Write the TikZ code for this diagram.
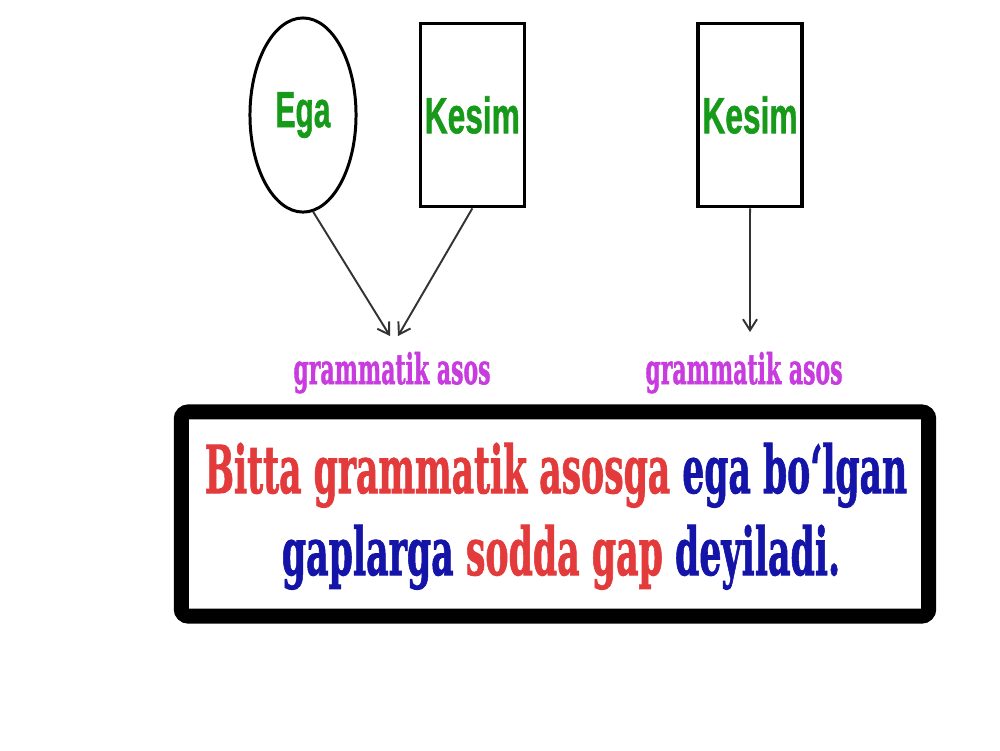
\documentclass[tikz,border=0pt]{standalone}
\usepackage{fontspec}
\usepackage{graphicx}
\setmainfont{DejaVu Serif}
\newfontfamily\partfont[FakeBold=1.2]{Liberation Sans Bold}
\newfontfamily\heavyserif[FakeBold=1.5]{DejaVu Serif Bold}
\usetikzlibrary{shapes.geometric, arrows.meta, positioning}

\definecolor{partgreen}{HTML}{17991A}
\definecolor{asosviolet}{HTML}{C83CDF}
\definecolor{defred}{HTML}{E33B3B}
\definecolor{defblue}{HTML}{1414A8}

% squeeze text to a given width, keep its height
\newcommand{\squeeze}[2]{\resizebox{#1}{\height}{#2}}

\begin{document}
\begin{tikzpicture}[
    x=0.01cm, y=-0.01cm,
    part/.style={draw, inner sep=0pt, text=partgreen, font=\partfont\fontsize{14.5}{14.5}\selectfont},
    oval/.style={part, ellipse, line width=0.85pt, minimum width=1.06cm, minimum height=1.94cm},
    tall/.style={part, rectangle, line width=1pt, minimum width=1.04cm, minimum height=1.83cm},
    asos/.style={text=asosviolet, inner sep=0pt, anchor=base, font=\heavyserif\fontsize{12}{12}\selectfont},
    defline/.style={inner sep=0pt, anchor=base, font=\heavyserif\fontsize{18.8}{18.8}\selectfont},
    arrow/.style={-{Straight Barb[length=1.1mm, width=1.4mm]}, draw=black!80, line width=0.55pt},
    frame/.style={draw, line width=0.15cm, rounded corners=2pt, minimum width=7.47cm, minimum height=2.04cm}
]
\useasboundingbox[fill=white] (0,0) rectangle (1000,750);

% Ega + Kesim
\node[oval] (ega) at (303,115) {\squeeze{0.55cm}{Ega}};
\node[tall, right=0.61cm of ega] (kesimA) {\squeeze{0.95cm}{Kesim}};
\node[asos] (asosA) at (392,384) {\squeeze{1.97cm}{grammatik asos}};
\coordinate (tipA) at (390,336);
\coordinate (tipB) at (398,336);

\draw[arrow] (ega.-84) -- (tipA);
\draw[arrow] (kesimA.south) -- (tipB);

% Kesim only
\node[tall, right=1.70cm of kesimA] (kesimB) {\squeeze{0.95cm}{Kesim}};
\node[asos] (asosB) at (744,384) {\squeeze{1.97cm}{grammatik asos}};
\coordinate (tipC) at (750,332);

\draw[arrow] (kesimB.south) -- (tipC);

% Definition
\node[frame] (defbox) at (555,514) {};
\node[defline] (line1) at (556,493) {\squeeze{7.02cm}{\textcolor{defred}{Bitta grammatik asosga} \textcolor{defblue}{ega bo‘lgan}}};
\node[defline] (line2) at (561,575) {\squeeze{5.58cm}{\textcolor{defblue}{gaplarga} \textcolor{defred}{sodda gap} \textcolor{defblue}{deyiladi.}}};

\end{tikzpicture}
\end{document}
